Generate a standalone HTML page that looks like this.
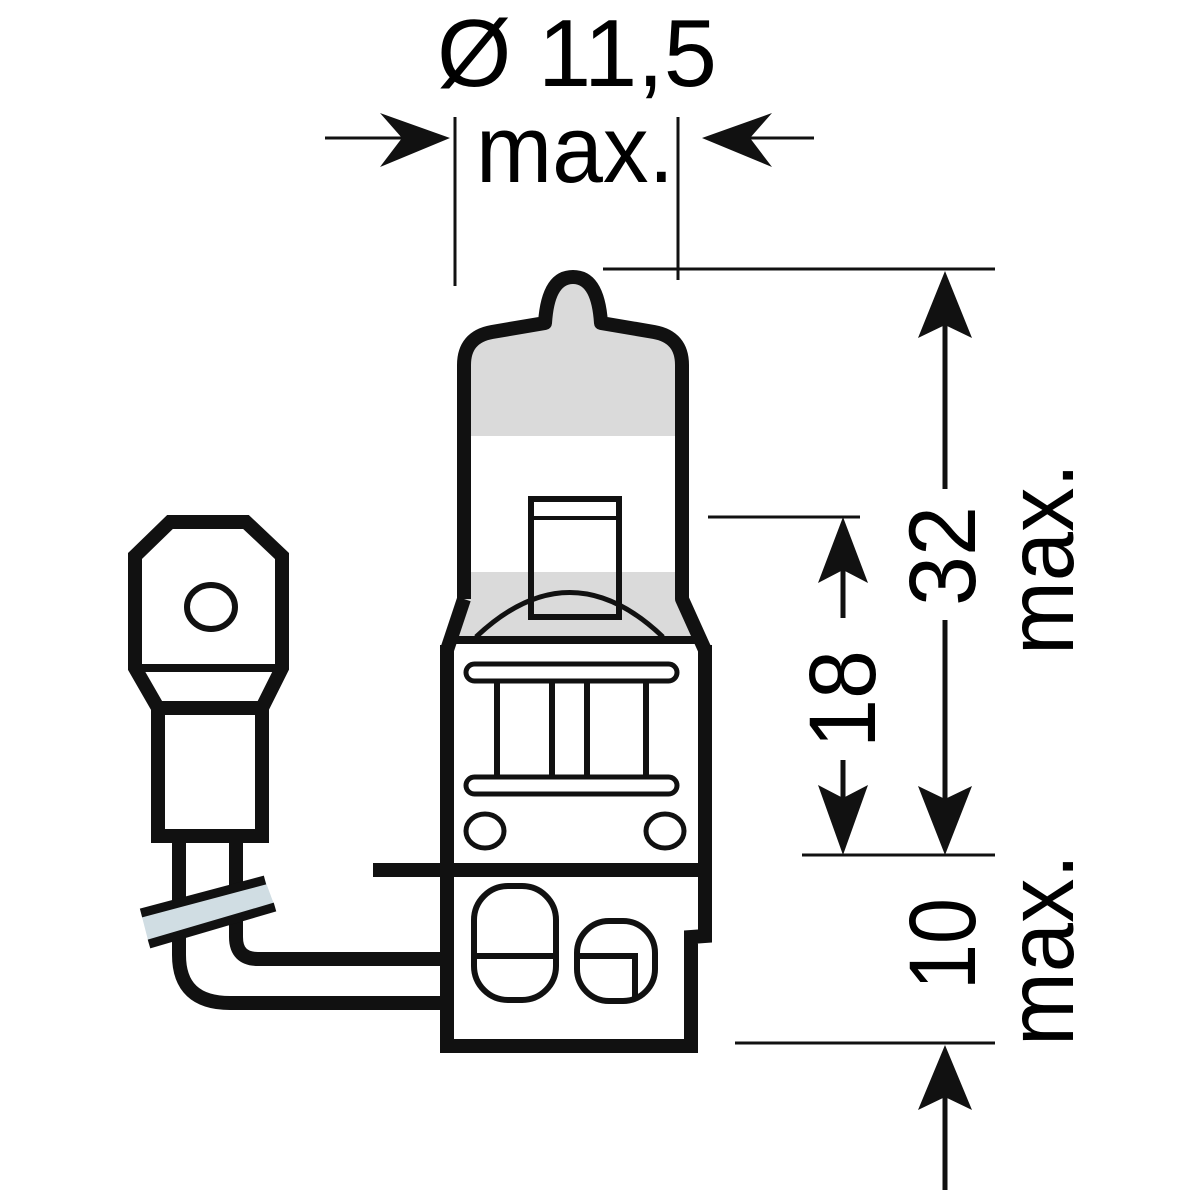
<!DOCTYPE html>
<html><head><meta charset="utf-8"><style>html,body{margin:0;padding:0;background:#fff}svg{display:block}</style></head>
<body>
<svg width="1200" height="1200" viewBox="0 0 1200 1200" xmlns="http://www.w3.org/2000/svg" font-family="Liberation Sans, sans-serif">
<rect width="1200" height="1200" fill="#fff"/>
<!-- top dimension -->
<text x="437" y="86" font-size="96" textLength="280" lengthAdjust="spacingAndGlyphs">Ø 11,5</text>
<text x="476" y="182" font-size="96" textLength="198" lengthAdjust="spacingAndGlyphs">max.</text>
<g stroke="#111" stroke-width="3" fill="none">
<line x1="455" y1="117" x2="455" y2="286"/>
<line x1="678" y1="117" x2="678" y2="280"/>
<line x1="325" y1="138" x2="405" y2="138"/>
<line x1="795" y1="138" x2="814" y2="138"/>
<line x1="750" y1="138" x2="814" y2="138"/>
<line x1="603" y1="269" x2="995" y2="269"/>
<line x1="708" y1="517" x2="860" y2="517"/>
<line x1="802" y1="855" x2="995" y2="855"/>
<line x1="735" y1="1043" x2="995" y2="1043"/>
</g>
<g fill="#111">
<polygon points="450,138 380,113 402,138 380,167"/>
<polygon points="702,138 772,113 750,138 772,167"/>
<!-- 32 arrows -->
<polygon points="945,271 918,338 945,325 972,338"/>
<polygon points="945,855 918,786 945,799 972,786"/>
<polygon points="843,517 818,583 843,570 868,583"/>
<polygon points="843,855 818,785 843,798 868,785"/>
<polygon points="945,1045 918,1110 945,1097 972,1110"/>
</g>
<g stroke="#111" stroke-width="5">
<line x1="945" y1="320" x2="945" y2="489"/>
<line x1="945" y1="620" x2="945" y2="805"/>
<line x1="843" y1="565" x2="843" y2="618"/>
<line x1="843" y1="760" x2="843" y2="805"/>
<line x1="945" y1="1090" x2="945" y2="1190"/>
</g>
<g font-size="95">
<text transform="translate(975,606) rotate(-90)" textLength="100" lengthAdjust="spacingAndGlyphs">32</text>
<text transform="translate(875,748) rotate(-90)" textLength="98" lengthAdjust="spacingAndGlyphs">18</text>
<text transform="translate(975,990) rotate(-90)" textLength="92" lengthAdjust="spacingAndGlyphs">10</text>
<text transform="translate(1073,655) rotate(-90)" textLength="192" lengthAdjust="spacingAndGlyphs">max.</text>
<text transform="translate(1073,1046) rotate(-90)" textLength="192" lengthAdjust="spacingAndGlyphs">max.</text>
</g>
<!-- bulb glass -->
<clipPath id="g"><path d="M464,599 L464,365 Q464,337 492,332 L545,323 Q548,277 573,277 Q598,277 601,323 L654,332 Q682,337 682,365 L682,599 L705,645 L447,645 Z"/></clipPath>
<g clip-path="url(#g)">
<rect x="440" y="260" width="280" height="176" fill="#dadada"/>
<rect x="440" y="572" width="280" height="70" fill="#dadada"/>
</g>
<path d="M464,599 L464,365 Q464,337 492,332 L545,323 Q548,277 573,277 Q598,277 601,323 L654,332 Q682,337 682,365 L682,599 L705,650" fill="none" stroke="#111" stroke-width="14" stroke-linejoin="round"/>
<path d="M464,599 L447,650" fill="none" stroke="#111" stroke-width="14"/>
<!-- filament box -->
<rect x="531" y="499" width="88" height="118" fill="none" stroke="#111" stroke-width="6"/>
<line x1="531" y1="518" x2="619" y2="518" stroke="#111" stroke-width="4"/>
<path d="M476,637 Q570,548 663,637" fill="none" stroke="#111" stroke-width="5"/>
<!-- base -->
<path d="M447,645 L447,1046 L691,1046 L691,937 L705,936 L705,645" fill="none" stroke="#111" stroke-width="14"/>
<line x1="447" y1="640" x2="705" y2="640" stroke="#111" stroke-width="8"/>
<rect x="466" y="664" width="211" height="17" rx="8.5" fill="none" stroke="#111" stroke-width="5"/>
<rect x="466" y="777" width="211" height="17" rx="8.5" fill="none" stroke="#111" stroke-width="5"/>
<g stroke="#111" stroke-width="6">
<line x1="497" y1="681" x2="497" y2="777"/>
<line x1="552" y1="681" x2="552" y2="777"/>
<line x1="587" y1="681" x2="587" y2="777"/>
<line x1="646" y1="681" x2="646" y2="777"/>
</g>
<ellipse cx="485" cy="831" rx="19" ry="17" fill="none" stroke="#111" stroke-width="5"/>
<ellipse cx="665" cy="831" rx="19" ry="17" fill="none" stroke="#111" stroke-width="5"/>
<line x1="373" y1="870" x2="712" y2="870" stroke="#111" stroke-width="14"/>
<rect x="474" y="886" width="82" height="114" rx="34" fill="none" stroke="#111" stroke-width="6"/>
<line x1="474" y1="956" x2="556" y2="956" stroke="#111" stroke-width="6"/>
<rect x="577" y="921" width="78" height="80" rx="32" fill="none" stroke="#111" stroke-width="6"/>
<path d="M577,956 L635,956 L635,1000" fill="none" stroke="#111" stroke-width="6"/>
<!-- connector -->
<path d="M135,556 L170,522 L246,522 L282,556 L282,668 L262,708 L158,708 L135,668 Z" fill="none" stroke="#111" stroke-width="14" stroke-linejoin="miter"/>
<line x1="135" y1="668" x2="282" y2="668" stroke="#111" stroke-width="8"/>
<ellipse cx="211" cy="607" rx="24" ry="22" fill="none" stroke="#111" stroke-width="6"/>
<rect x="158" y="708" width="104" height="128" fill="none" stroke="#111" stroke-width="14"/>
<!-- wire -->
<path d="M179,836 L179,955 Q179,1003 230,1003 L447,1003" fill="none" stroke="#111" stroke-width="14"/>
<path d="M236,836 L236,937 Q236,959 258,959 L447,959" fill="none" stroke="#111" stroke-width="14"/>
<polygon points="141,913 265,880 275,907 149,944" fill="#d0dde3"/>
<line x1="141" y1="913" x2="265" y2="880" stroke="#111" stroke-width="9"/>
<line x1="149" y1="944" x2="275" y2="907" stroke="#111" stroke-width="9"/>
</svg>
</body></html>
